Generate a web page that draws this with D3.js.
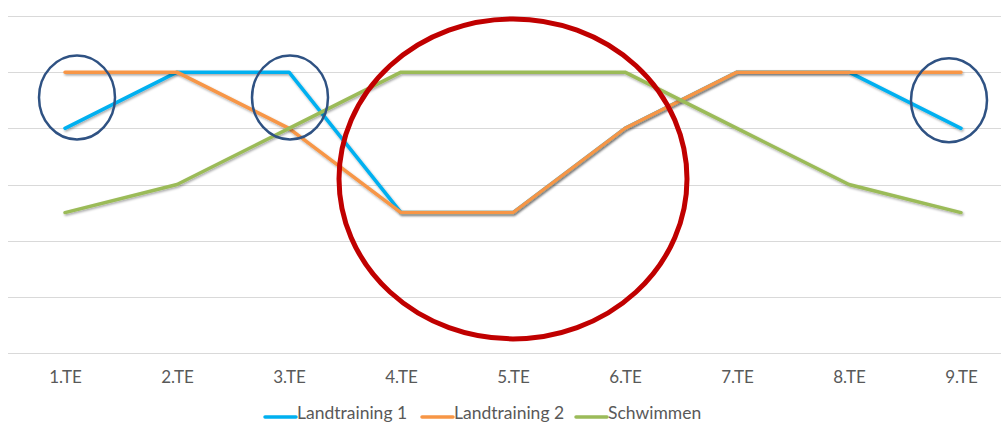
<!DOCTYPE html>
<html>
<head>
<meta charset="utf-8">
<script src="https://cdn.jsdelivr.net/npm/d3@7"></script>
<style>
  body { margin: 0; background: #fff; }
  svg { display: block; font-family: Lato, "Open Sans", sans-serif; }
</style>
</head>
<body>
<div id="chart"></div>
<script>
// data
var categories = ['1.TE', '2.TE', '3.TE', '4.TE', '5.TE', '6.TE', '7.TE', '8.TE', '9.TE'];
var landtraining1 = [4, 5, 5, 2.5, 2.5, 4, 5, 5, 4];
var landtraining2 = [5, 5, 4, 2.5, 2.5, 4, 5, 5, 5];
var schwimmen = [2.5, 3, 4, 5, 5, 5, 4, 3, 2.5];
var gridTicks = [0, 1, 2, 3, 4, 5, 6];

// hand drawn marks on top of the chart (category + value of centre)
var blueRings = [
  { cat: '1.TE', val: 4.55, shift: 12 },
  { cat: '3.TE', val: 4.55, shift: 1 },
  { cat: '9.TE', val: 4.5, shift: -12 }
];
var redRing = { cat: '5.TE', val: 3.1 };

var width = 1001;
var height = 423;

var svg = d3.select('#chart')
  .append('svg')
  .attr('width', width)
  .attr('height', height);

// soft shadow under the lines, like the office chart
var defs = svg.append('defs');
defs.append('filter')
  .attr('id', 'shadow')
  .attr('x', '-5%').attr('y', '-20%')
  .attr('width', '110%').attr('height', '140%')
  .append('feDropShadow')
  .attr('dx', 1).attr('dy', 1.5)
  .attr('stdDeviation', 1)
  .attr('flood-color', '#000')
  .attr('flood-opacity', 0.35);

var x = d3.scalePoint().domain(categories).range([9, 1017]).padding(0.5);
var y = d3.scaleLinear().domain([0, 6]).range([353, 16]);

// gridlines
svg.append('g')
  .selectAll('line')
  .data(gridTicks)
  .enter()
  .append('line')
  .attr('x1', 8)
  .attr('x2', width)
  .attr('y1', function(d) { return Math.round(y(d)) + 0.5; })
  .attr('y2', function(d) { return Math.round(y(d)) + 0.5; })
  .attr('stroke', '#d9d9d9')
  .attr('stroke-width', 1);

// category labels
var xAxis = d3.axisBottom(x).tickSize(0).tickPadding(18);
var xg = svg.append('g')
  .attr('transform', 'translate(0,' + y(0) + ')')
  .call(xAxis);
xg.select('.domain').remove();
xg.selectAll('text')
  .attr('fill', '#595959')
  .style('font-size', '17px')
  .style('font-family', 'Lato, "Open Sans", sans-serif');

var series = [
  { name: 'Landtraining 1', values: landtraining1, color: '#00b0f0' },
  { name: 'Landtraining 2', values: landtraining2, color: '#f79646' },
  { name: 'Schwimmen', values: schwimmen, color: '#9bbb59' }
];

var line = d3.line()
  .x(function(d, i) { return x(categories[i]); })
  .y(function(d) { return y(d); });

svg.append('g')
  .selectAll('path')
  .data(series)
  .enter()
  .append('path')
  .attr('d', function(s) { return line(s.values); })
  .attr('fill', 'none')
  .attr('stroke', function(s) { return s.color; })
  .attr('stroke-width', 3.5)
  .attr('stroke-linejoin', 'round')
  .attr('stroke-linecap', 'round')
  .attr('filter', 'url(#shadow)');

// blue rings
svg.append('g')
  .selectAll('ellipse')
  .data(blueRings)
  .enter()
  .append('ellipse')
  .attr('cx', function(d) { return x(d.cat) + d.shift; })
  .attr('cy', function(d) { return y(d.val); })
  .attr('rx', 38)
  .attr('ry', 42)
  .attr('fill', 'none')
  .attr('stroke', '#2f5283')
  .attr('stroke-width', 2.5);

// red ring
svg.append('ellipse')
  .attr('cx', x(redRing.cat))
  .attr('cy', y(redRing.val))
  .attr('rx', 174)
  .attr('ry', 160)
  .attr('fill', 'none')
  .attr('stroke', '#c00000')
  .attr('stroke-width', 5);

// legend
var legendX = [265, 422, 576];
var legend = svg.append('g')
  .selectAll('g')
  .data(series)
  .enter()
  .append('g')
  .attr('transform', function(d, i) { return 'translate(' + legendX[i] + ',417)'; });

legend.append('line')
  .attr('x1', 0).attr('x2', 31)
  .attr('y1', 0).attr('y2', 0)
  .attr('stroke', function(d) { return d.color; })
  .attr('stroke-width', 3.5)
  .attr('stroke-linecap', 'round');

legend.append('text')
  .attr('x', 32)
  .attr('y', 2)
  .attr('fill', '#595959')
  .style('font-size', '17.5px')
  .text(function(d) { return d.name; });
</script>
</body>
</html>
